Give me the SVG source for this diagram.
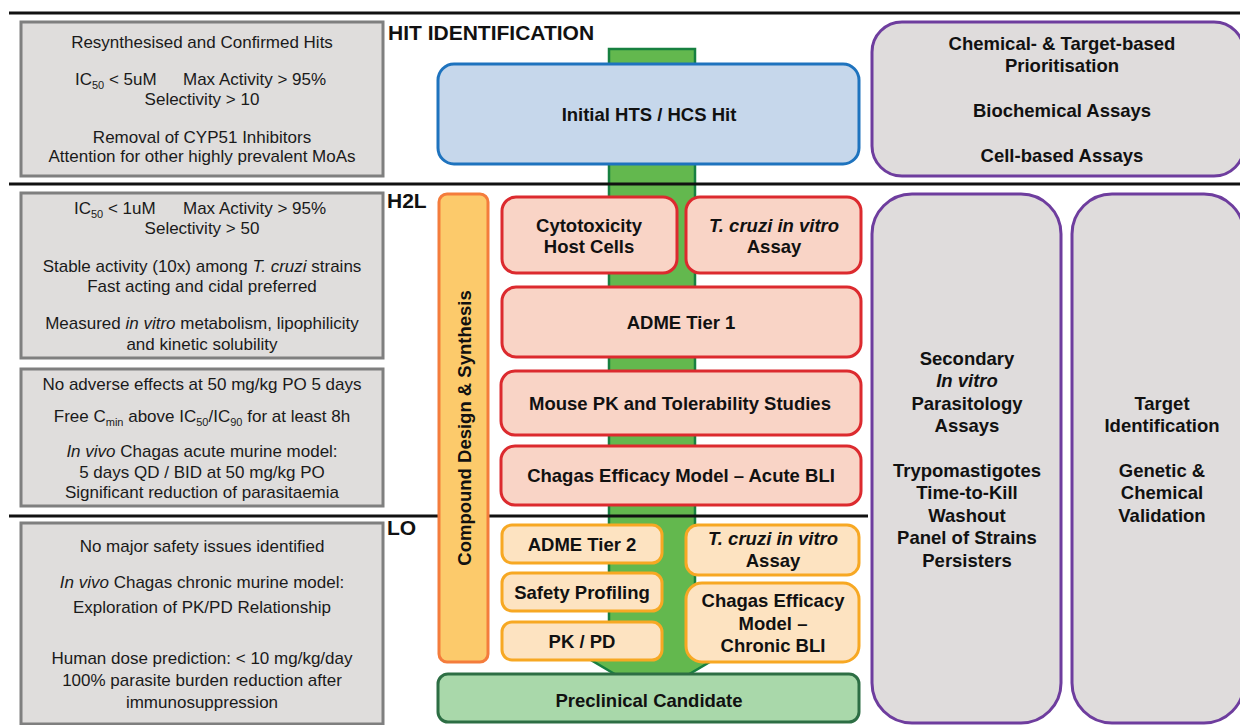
<svg xmlns="http://www.w3.org/2000/svg" width="1240" height="725" viewBox="0 0 1240 725">
<style>
.lt{font-family:"Liberation Sans",Arial,sans-serif;font-size:17px;fill:#1a1a1a;text-anchor:middle}
.ls{font-family:"Liberation Sans",Arial,sans-serif;font-size:17px;fill:#1a1a1a;text-anchor:start}
.bt{font-family:"Liberation Sans",Arial,sans-serif;font-size:18.5px;font-weight:bold;fill:#111;text-anchor:middle}
.hd{font-family:"Liberation Sans",Arial,sans-serif;font-size:21px;font-weight:bold;fill:#111;text-anchor:start}
.gray{fill:#dfdddc;stroke:#7f7f7f;stroke-width:3}
.purple{fill:#dfdcdc;stroke:#6e3d9e;stroke-width:3}
.red{fill:#f9d4c6;stroke:#dc2a2e;stroke-width:3}
.org{fill:#fde3c1;stroke:#f7a823;stroke-width:3}
.div{stroke:#111;stroke-width:3}
.sub{font-size:11px}
</style>

<g id="connectors">
  <polygon points="609,49 695,49 695,640 747,640 652,696 557,640 609,640" fill="#63b84e" stroke="#178040" stroke-width="2.5"/>
</g>

<g id="dividers">
  <line class="div" x1="9" y1="13" x2="1240" y2="13"/>
  <line class="div" x1="9" y1="184" x2="1240" y2="184"/>
  <line class="div" x1="9" y1="516" x2="868" y2="516"/>
</g>

<g id="stage-labels">
  <text class="hd" x="388" y="40">HIT IDENTIFICATION</text>
  <text class="hd" x="387" y="208">H2L</text>
  <text class="hd" x="387" y="535">LO</text>
</g>

<g id="hit-criteria">
  <rect class="gray" x="21" y="22" width="362" height="154"/>
  <text class="lt" x="202" y="48">Resynthesised and Confirmed Hits</text>
  <text class="ls" x="75" y="85">IC<tspan class="sub" dy="4">50</tspan><tspan dy="-4"> &lt; 5uM</tspan></text>
  <text class="ls" x="183" y="85" font-size="16">Max Activity &gt; 95%</text>
  <text class="lt" x="202" y="105">Selectivity &gt; 10</text>
  <text class="lt" x="202" y="143">Removal of CYP51 Inhibitors</text>
  <text class="lt" x="202" y="162">Attention for other highly prevalent MoAs</text>
</g>

<g id="h2l-criteria-1">
  <rect class="gray" x="21" y="193" width="362" height="165"/>
  <text class="ls" x="74" y="214">IC<tspan class="sub" dy="4">50</tspan><tspan dy="-4"> &lt; 1uM</tspan></text>
  <text class="ls" x="183" y="214" font-size="16">Max Activity &gt; 95%</text>
  <text class="lt" x="202" y="234">Selectivity &gt; 50</text>
  <text class="lt" x="202" y="272">Stable activity (10x) among <tspan font-style="italic">T. cruzi</tspan> strains</text>
  <text class="lt" x="202" y="292">Fast acting and cidal preferred</text>
  <text class="lt" x="202" y="329">Measured <tspan font-style="italic">in vitro</tspan> metabolism, lipophilicity</text>
  <text class="lt" x="202" y="350">and kinetic solubility</text>
</g>

<g id="h2l-criteria-2">
  <rect class="gray" x="21" y="369" width="362" height="137"/>
  <text class="lt" x="202" y="390">No adverse effects at 50 mg/kg PO 5 days</text>
  <text class="lt" x="202" y="422">Free C<tspan class="sub" dy="4">min</tspan><tspan dy="-4"> above IC</tspan><tspan class="sub" dy="4">50</tspan><tspan dy="-4">/IC</tspan><tspan class="sub" dy="4">90</tspan><tspan dy="-4"> for at least 8h</tspan></text>
  <text class="lt" x="202" y="457"><tspan font-style="italic">In vivo</tspan> Chagas acute murine model:</text>
  <text class="lt" x="202" y="478">5 days QD / BID at 50 mg/kg PO</text>
  <text class="lt" x="202" y="498">Significant reduction of parasitaemia</text>
</g>

<g id="lo-criteria">
  <rect class="gray" x="21" y="523" width="362" height="201"/>
  <text class="lt" x="202" y="552">No major safety issues identified</text>
  <text class="lt" x="202" y="588"><tspan font-style="italic">In vivo</tspan> Chagas chronic murine model:</text>
  <text class="lt" x="202" y="613">Exploration of PK/PD Relationship</text>
  <text class="lt" x="202" y="664">Human dose prediction: &lt; 10 mg/kg/day</text>
  <text class="lt" x="202" y="686">100% parasite burden reduction after</text>
  <text class="lt" x="202" y="708">immunosuppression</text>
</g>

<g id="initial-hit">
  <rect x="438" y="64" width="421" height="100" rx="16" fill="#c6d7eb" stroke="#1e73be" stroke-width="3"/>
  <text class="bt" x="649" y="121">Initial HTS / HCS Hit</text>
</g>

<g id="compound-design">
  <rect x="439" y="194" width="49" height="468" rx="8" fill="#fcca6b" stroke="#f47c3c" stroke-width="3"/>
  <text class="bt" transform="translate(471,428) rotate(-90)" x="0" y="0">Compound Design &amp; Synthesis</text>
</g>

<g id="cytotoxicity">
  <rect class="red" x="502" y="197" width="175" height="76" rx="14"/>
  <text class="bt" x="589" y="232">Cytotoxicity</text>
  <text class="bt" x="589" y="253">Host Cells</text>
</g>

<g id="tcruzi-h2l">
  <rect class="red" x="686" y="197" width="175" height="76" rx="14"/>
  <text class="bt" x="774" y="232" font-style="italic">T. cruzi in vitro</text>
  <text class="bt" x="774" y="253">Assay</text>
</g>

<g id="adme1">
  <rect class="red" x="502" y="287" width="359" height="70" rx="14"/>
  <text class="bt" x="681" y="329">ADME Tier 1</text>
</g>

<g id="mouse-pk">
  <rect class="red" x="501" y="371" width="360" height="64" rx="14"/>
  <text class="bt" x="680" y="410">Mouse PK and Tolerability Studies</text>
</g>

<g id="acute-bli">
  <rect class="red" x="501" y="446" width="360" height="59" rx="14"/>
  <text class="bt" x="681" y="482">Chagas Efficacy Model – Acute BLI</text>
</g>

<g id="adme2">
  <rect class="org" x="502" y="525" width="160" height="38" rx="10"/>
  <text class="bt" x="582" y="551">ADME Tier 2</text>
</g>

<g id="safety">
  <rect class="org" x="502" y="573" width="160" height="38" rx="10"/>
  <text class="bt" x="582" y="599">Safety Profiling</text>
</g>

<g id="pkpd">
  <rect class="org" x="502" y="622" width="160" height="38" rx="10"/>
  <text class="bt" x="582" y="648">PK / PD</text>
</g>

<g id="tcruzi-lo">
  <rect class="org" x="686" y="525" width="173" height="50" rx="12"/>
  <text class="bt" x="773" y="545" font-style="italic">T. cruzi in vitro</text>
  <text class="bt" x="773" y="567">Assay</text>
</g>

<g id="chronic-bli">
  <rect class="org" x="686" y="583" width="173" height="79" rx="16"/>
  <text class="bt" x="773" y="607">Chagas Efficacy</text>
  <text class="bt" x="773" y="630">Model –</text>
  <text class="bt" x="773" y="652">Chronic BLI</text>
</g>

<g id="preclinical">
  <rect x="438" y="674" width="421" height="48" rx="10" fill="#a9d8aa" stroke="#2d6e44" stroke-width="3"/>
  <text class="bt" x="649" y="707">Preclinical Candidate</text>
</g>

<g id="hit-assays">
  <rect class="purple" x="872" y="22" width="372" height="154" rx="30"/>
  <text class="bt" x="1062" y="50">Chemical- &amp; Target-based</text>
  <text class="bt" x="1062" y="72">Prioritisation</text>
  <text class="bt" x="1062" y="117">Biochemical Assays</text>
  <text class="bt" x="1062" y="162">Cell-based Assays</text>
</g>

<g id="secondary-assays">
  <rect class="purple" x="872" y="194" width="189" height="529" rx="40"/>
  <text class="bt" x="967" y="365">Secondary</text>
  <text class="bt" x="967" y="387" font-style="italic">In vitro</text>
  <text class="bt" x="967" y="410">Parasitology</text>
  <text class="bt" x="967" y="432">Assays</text>
  <text class="bt" x="967" y="477">Trypomastigotes</text>
  <text class="bt" x="967" y="499">Time-to-Kill</text>
  <text class="bt" x="967" y="522">Washout</text>
  <text class="bt" x="967" y="544">Panel of Strains</text>
  <text class="bt" x="967" y="567">Persisters</text>
</g>

<g id="target-id">
  <rect class="purple" x="1072" y="194" width="172" height="529" rx="40"/>
  <text class="bt" x="1162" y="410">Target</text>
  <text class="bt" x="1162" y="432">Identification</text>
  <text class="bt" x="1162" y="477">Genetic &amp;</text>
  <text class="bt" x="1162" y="499">Chemical</text>
  <text class="bt" x="1162" y="522">Validation</text>
</g>
</svg>
